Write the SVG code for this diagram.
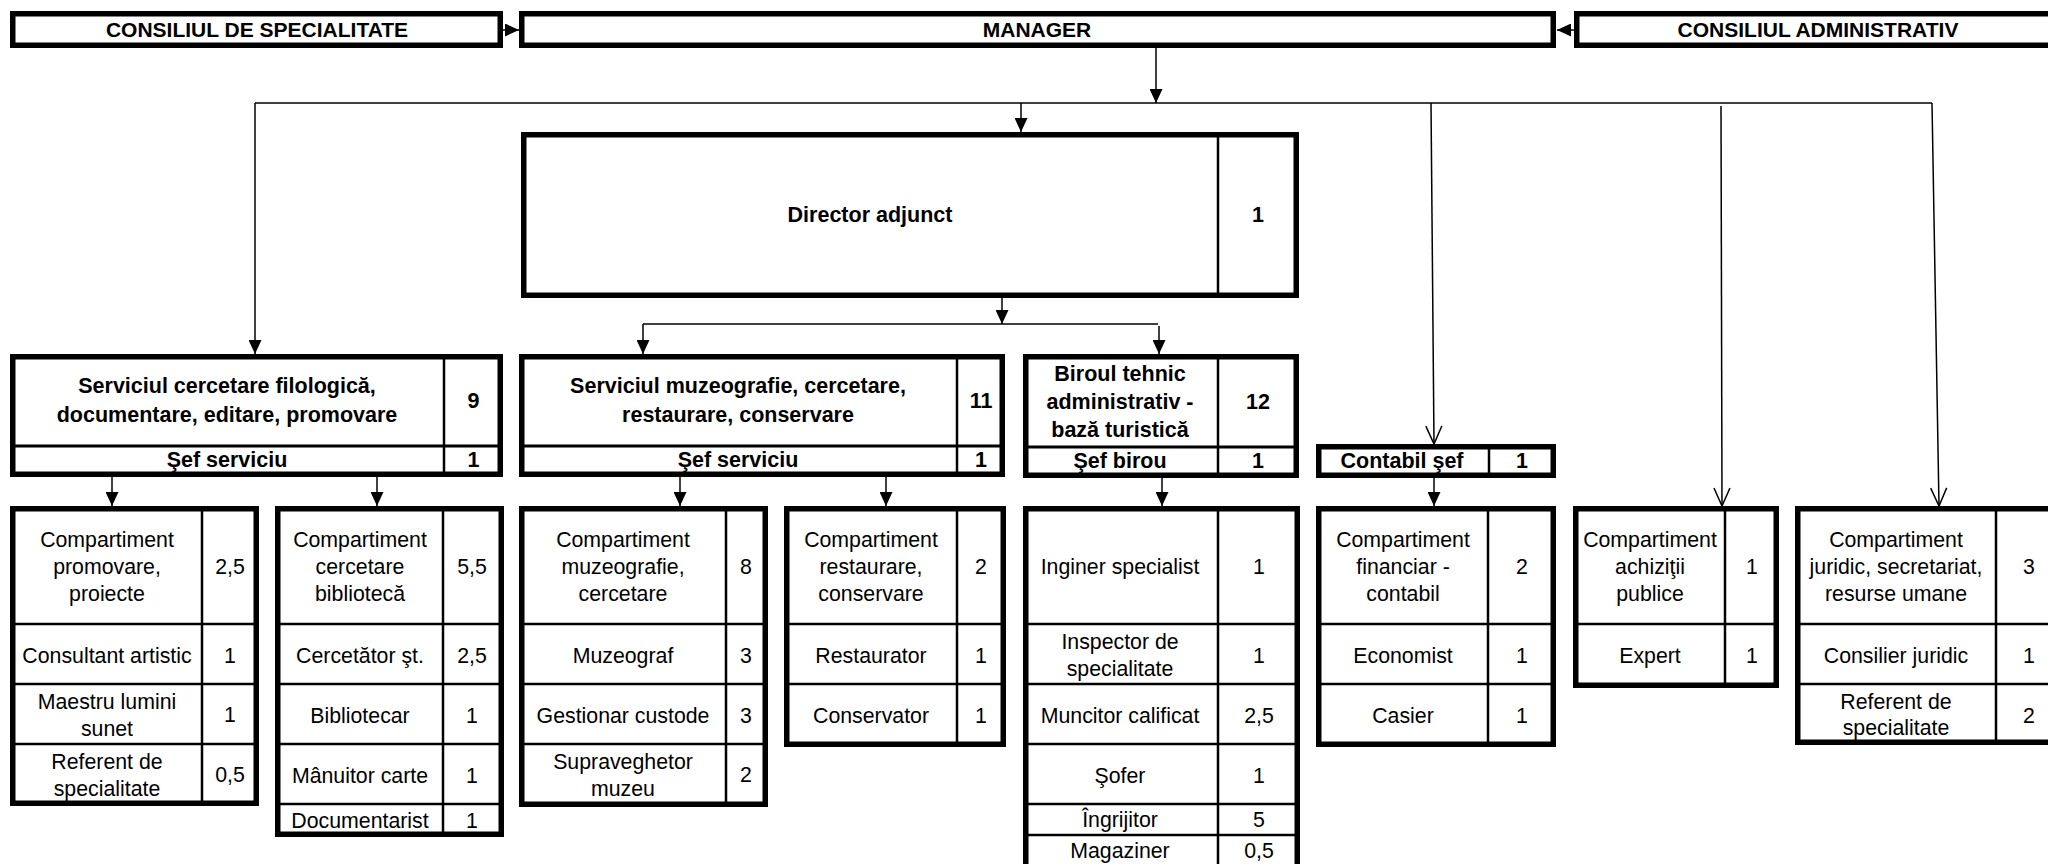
<svg xmlns="http://www.w3.org/2000/svg" width="2048" height="864" viewBox="0 0 2048 864">
<style>
.o{fill:#fff;stroke:#000;stroke-width:5.5}
.i{stroke:#000;stroke-width:2.5}
.h{stroke:#000;stroke-width:3}
.c{stroke:#000;stroke-width:1.5;fill:none}
text{font-family:"Liberation Sans",Arial,sans-serif;font-size:21.3px;text-anchor:middle;fill:#000}
.b{font-weight:bold;font-size:21.5px}
.tp{font-weight:bold;font-size:21px}
</style>
<defs>
<marker id="af" viewBox="0 0 14 13" refX="14" refY="6.5" markerWidth="14" markerHeight="13" markerUnits="userSpaceOnUse" orient="auto"><path d="M0,0 L14,6.5 L0,13 z" fill="#000"/></marker>
<marker id="ao" viewBox="0 0 20 18" refX="19" refY="9" markerWidth="20" markerHeight="18" markerUnits="userSpaceOnUse" orient="auto"><path d="M1,1 L19,9 L1,17" fill="none" stroke="#000" stroke-width="1.5"/></marker>
</defs>
<rect width="2048" height="864" fill="#fff"/>

<g id="connectors" class="c">
<path d="M503,30 H519" marker-end="url(#af)"/>
<path d="M1574,30 H1557" marker-end="url(#af)"/>
<path d="M1156,48 V103" marker-end="url(#af)"/>
<path d="M255,103 H1932"/>
<path d="M255,103 V354" marker-end="url(#af)"/>
<path d="M1021,103 V132" marker-end="url(#af)"/>
<path d="M1431,103 L1434,444" marker-end="url(#ao)"/>
<path d="M1721,106 L1722,506" marker-end="url(#ao)"/>
<path d="M1932,103 L1939,506" marker-end="url(#ao)"/>
<path d="M1002,161 V324" marker-end="url(#af)"/>
<path d="M643,324 H1158"/>
<path d="M643,324 V354" marker-end="url(#af)"/>
<path d="M1159,326 V354" marker-end="url(#af)"/>
<path d="M112,477 V506" marker-end="url(#af)"/>
<path d="M377,477 V506" marker-end="url(#af)"/>
<path d="M680,477 V506" marker-end="url(#af)"/>
<path d="M886,477 V506" marker-end="url(#af)"/>
<path d="M1162,478 V506" marker-end="url(#af)"/>
<path d="M1434,478 V506" marker-end="url(#af)"/>
</g>

<g id="consiliul-specialitate">
<rect class="o" x="12.75" y="13.75" width="487.5" height="31.5"/>
<text class="tp" x="257" y="37">CONSILIUL DE SPECIALITATE</text>
</g>
<g id="manager">
<rect class="o" x="521.75" y="13.75" width="1031.5" height="31.5"/>
<text class="tp" x="1037" y="37">MANAGER</text>
</g>
<g id="consiliul-administrativ">
<rect class="o" x="1576.75" y="13.75" width="482.5" height="31.5"/>
<text class="tp" x="1818" y="37">CONSILIUL ADMINISTRATIV</text>
</g>

<g id="director-adjunct">
<rect class="o" x="523.75" y="134.75" width="772.5" height="160.5"/>
<line class="i" x1="1218" y1="132" x2="1218" y2="298"/>
<text class="b" x="870" y="222">Director adjunct</text>
<text class="b" x="1258" y="222">1</text>
</g>

<g id="serviciul-filologic">
<rect class="o" x="12.75" y="356.75" width="487.5" height="117.5"/>
<line class="i" x1="444" y1="354" x2="444" y2="477"/>
<line class="h" x1="10" y1="446" x2="503" y2="446"/>
<text class="b" x="227" y="393">Serviciul cercetare filologică,</text>
<text class="b" x="227" y="422">documentare, editare, promovare</text>
<text class="b" x="473.5" y="408">9</text>
<text class="b" x="227" y="467">Şef serviciu</text>
<text class="b" x="473.5" y="467">1</text>
</g>

<g id="serviciul-muzeografie">
<rect class="o" x="521.75" y="356.75" width="480.5" height="117.5"/>
<line class="i" x1="957" y1="354" x2="957" y2="477"/>
<line class="h" x1="519" y1="446" x2="1005" y2="446"/>
<text class="b" x="738" y="393">Serviciul muzeografie, cercetare,</text>
<text class="b" x="738" y="422">restaurare, conservare</text>
<text class="b" x="981" y="408">11</text>
<text class="b" x="738" y="467">Şef serviciu</text>
<text class="b" x="981" y="467">1</text>
</g>

<g id="biroul-tehnic">
<rect class="o" x="1025.75" y="356.75" width="270.5" height="118.5"/>
<line class="i" x1="1218" y1="354" x2="1218" y2="478"/>
<line class="h" x1="1023" y1="447" x2="1299" y2="447"/>
<text class="b" x="1120" y="381">Biroul tehnic</text>
<text class="b" x="1120" y="409">administrativ -</text>
<text class="b" x="1120" y="437">bază turistică</text>
<text class="b" x="1258" y="409">12</text>
<text class="b" x="1120" y="468">Şef birou</text>
<text class="b" x="1258" y="468">1</text>
</g>

<g id="contabil-sef">
<rect class="o" x="1318.75" y="446.75" width="234.5" height="28.5"/>
<line class="i" x1="1489" y1="444" x2="1489" y2="478"/>
<text class="b" x="1402" y="468">Contabil şef</text>
<text class="b" x="1522" y="468">1</text>
</g>

<g id="comp-promovare">
<rect class="o" x="12.75" y="508.75" width="243.5" height="294.5"/>
<line class="i" x1="202" y1="506" x2="202" y2="806"/>
<line class="i" x1="10" y1="624" x2="259" y2="624"/>
<line class="i" x1="10" y1="684" x2="259" y2="684"/>
<line class="i" x1="10" y1="744" x2="259" y2="744"/>
<text x="107" y="547">Compartiment</text>
<text x="107" y="574">promovare,</text>
<text x="107" y="601">proiecte</text>
<text x="230" y="574">2,5</text>
<text x="107" y="663">Consultant artistic</text>
<text x="230" y="663">1</text>
<text x="107" y="709">Maestru lumini</text>
<text x="107" y="736">sunet</text>
<text x="230" y="722">1</text>
<text x="107" y="769">Referent de</text>
<text x="107" y="796">specialitate</text>
<text x="230" y="782">0,5</text>
</g>

<g id="comp-biblioteca">
<rect class="o" x="277.75" y="508.75" width="223.5" height="325.5"/>
<line class="i" x1="443" y1="506" x2="443" y2="837"/>
<line class="i" x1="275" y1="624" x2="504" y2="624"/>
<line class="i" x1="275" y1="684" x2="504" y2="684"/>
<line class="i" x1="275" y1="744" x2="504" y2="744"/>
<line class="i" x1="275" y1="804" x2="504" y2="804"/>
<text x="360" y="547">Compartiment</text>
<text x="360" y="574">cercetare</text>
<text x="360" y="601">bibliotecă</text>
<text x="472" y="574">5,5</text>
<text x="360" y="663">Cercetător şt.</text>
<text x="472" y="663">2,5</text>
<text x="360" y="723">Bibliotecar</text>
<text x="472" y="723">1</text>
<text x="360" y="783">Mânuitor carte</text>
<text x="472" y="783">1</text>
<text x="360" y="828">Documentarist</text>
<text x="472" y="828">1</text>
</g>

<g id="comp-muzeografie">
<rect class="o" x="521.75" y="508.75" width="243.5" height="295.5"/>
<line class="i" x1="726" y1="506" x2="726" y2="807"/>
<line class="i" x1="519" y1="624" x2="768" y2="624"/>
<line class="i" x1="519" y1="684" x2="768" y2="684"/>
<line class="i" x1="519" y1="744" x2="768" y2="744"/>
<text x="623" y="547">Compartiment</text>
<text x="623" y="574">muzeografie,</text>
<text x="623" y="601">cercetare</text>
<text x="746" y="574">8</text>
<text x="623" y="663">Muzeograf</text>
<text x="746" y="663">3</text>
<text x="623" y="723">Gestionar custode</text>
<text x="746" y="723">3</text>
<text x="623" y="769">Supraveghetor</text>
<text x="623" y="796">muzeu</text>
<text x="746" y="782">2</text>
</g>

<g id="comp-restaurare">
<rect class="o" x="786.75" y="508.75" width="216.5" height="235.5"/>
<line class="i" x1="957" y1="506" x2="957" y2="747"/>
<line class="i" x1="784" y1="624" x2="1006" y2="624"/>
<line class="i" x1="784" y1="684" x2="1006" y2="684"/>
<text x="871" y="547">Compartiment</text>
<text x="871" y="574">restaurare,</text>
<text x="871" y="601">conservare</text>
<text x="981" y="574">2</text>
<text x="871" y="663">Restaurator</text>
<text x="981" y="663">1</text>
<text x="871" y="723">Conservator</text>
<text x="981" y="723">1</text>
</g>

<g id="biroul-personal">
<rect class="o" x="1025.75" y="508.75" width="271.5" height="370"/>
<line class="i" x1="1218" y1="506" x2="1218" y2="870"/>
<line class="i" x1="1023" y1="624" x2="1300" y2="624"/>
<line class="i" x1="1023" y1="684" x2="1300" y2="684"/>
<line class="i" x1="1023" y1="744" x2="1300" y2="744"/>
<line class="i" x1="1023" y1="804" x2="1300" y2="804"/>
<line class="i" x1="1023" y1="835" x2="1300" y2="835"/>
<text x="1120" y="574">Inginer specialist</text>
<text x="1259" y="574">1</text>
<text x="1120" y="649">Inspector de</text>
<text x="1120" y="676">specialitate</text>
<text x="1259" y="663">1</text>
<text x="1120" y="723">Muncitor calificat</text>
<text x="1259" y="723">2,5</text>
<text x="1120" y="783">Şofer</text>
<text x="1259" y="783">1</text>
<text x="1120" y="827">Îngrijitor</text>
<text x="1259" y="827">5</text>
<text x="1120" y="858">Magaziner</text>
<text x="1259" y="858">0,5</text>
</g>

<g id="comp-financiar">
<rect class="o" x="1318.75" y="508.75" width="234.5" height="235.5"/>
<line class="i" x1="1488" y1="506" x2="1488" y2="747"/>
<line class="i" x1="1316" y1="624" x2="1556" y2="624"/>
<line class="i" x1="1316" y1="684" x2="1556" y2="684"/>
<text x="1403" y="547">Compartiment</text>
<text x="1403" y="574">financiar -</text>
<text x="1403" y="601">contabil</text>
<text x="1522" y="574">2</text>
<text x="1403" y="663">Economist</text>
<text x="1522" y="663">1</text>
<text x="1403" y="723">Casier</text>
<text x="1522" y="723">1</text>
</g>

<g id="comp-achizitii">
<rect class="o" x="1575.75" y="508.75" width="200.5" height="176.5"/>
<line class="i" x1="1725" y1="506" x2="1725" y2="688"/>
<line class="i" x1="1573" y1="624" x2="1779" y2="624"/>
<text x="1650" y="547">Compartiment</text>
<text x="1650" y="574">achiziţii</text>
<text x="1650" y="601">publice</text>
<text x="1752" y="574">1</text>
<text x="1650" y="663">Expert</text>
<text x="1752" y="663">1</text>
</g>

<g id="comp-juridic">
<rect class="o" x="1797.75" y="508.75" width="261.5" height="233.5"/>
<line class="i" x1="1996" y1="506" x2="1996" y2="745"/>
<line class="i" x1="1795" y1="624" x2="2062" y2="624"/>
<line class="i" x1="1795" y1="684" x2="2062" y2="684"/>
<text x="1896" y="547">Compartiment</text>
<text x="1896" y="574">juridic, secretariat,</text>
<text x="1896" y="601">resurse umane</text>
<text x="2029" y="574">3</text>
<text x="1896" y="663">Consilier juridic</text>
<text x="2029" y="663">1</text>
<text x="1896" y="709">Referent de</text>
<text x="1896" y="735">specialitate</text>
<text x="2029" y="723">2</text>
</g>
</svg>
